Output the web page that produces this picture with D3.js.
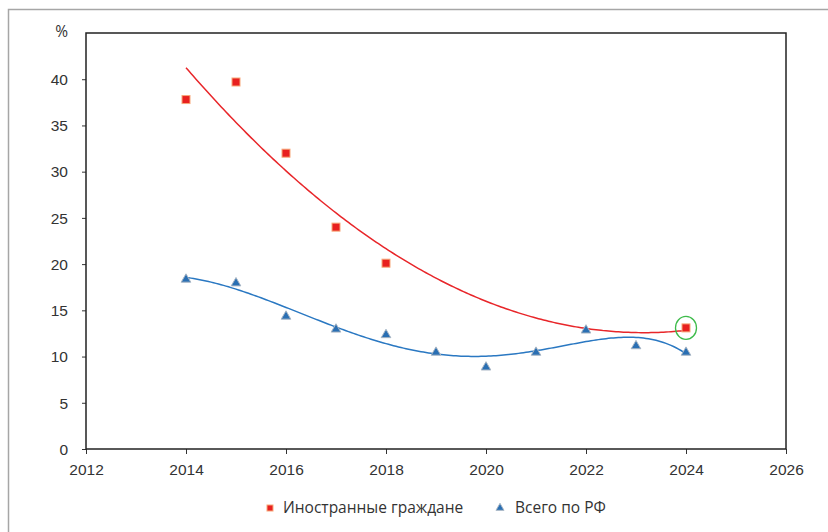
<!DOCTYPE html>
<html><head><meta charset="utf-8">
<script src="https://cdn.jsdelivr.net/npm/d3@7"></script>
<style>body{margin:0;background:#fff}svg{display:block;font-family:"Open Sans",sans-serif}</style>
</head><body><svg id="c" width="828" height="532"></svg>
<script>
const foreignYears = [2014, 2015, 2016, 2017, 2018, 2024];
const foreignValues = [37.8, 39.7, 32.0, 24.0, 20.1, 13.1];
const totalYears = [2014, 2015, 2016, 2017, 2018, 2019, 2020, 2021, 2022, 2023, 2024];
const totalValues = [18.4, 18.0, 14.4, 13.0, 12.4, 10.5, 8.9, 10.5, 12.9, 11.2, 10.5];
const xTicks = [2012, 2014, 2016, 2018, 2020, 2022, 2024, 2026];
const yTicks = [0, 5, 10, 15, 20, 25, 30, 35, 40];
const seriesNames = ["Иностранные граждане", "Всего по РФ"];

function polyfit(xs, ys, deg) {
  const n = deg + 1, A = [], b = [];
  for (let i = 0; i < n; i++) { A.push(new Array(n).fill(0)); b.push(0); }
  xs.forEach((x, k) => {
    for (let i = 0; i < n; i++) {
      b[i] += ys[k] * Math.pow(x, i);
      for (let j = 0; j < n; j++) A[i][j] += Math.pow(x, i + j);
    }
  });
  for (let i = 0; i < n; i++) {
    let p = i; for (let r = i + 1; r < n; r++) if (Math.abs(A[r][i]) > Math.abs(A[p][i])) p = r;
    [A[i], A[p]] = [A[p], A[i]]; [b[i], b[p]] = [b[p], b[i]];
    for (let r = i + 1; r < n; r++) { const f = A[r][i] / A[i][i]; for (let c = i; c < n; c++) A[r][c] -= f * A[i][c]; b[r] -= f * b[i]; }
  }
  const co = new Array(n).fill(0);
  for (let i = n - 1; i >= 0; i--) { let s = b[i]; for (let c = i + 1; c < n; c++) s -= A[i][c] * co[c]; co[i] = s / A[i][i]; }
  return x => co.reduce((s, c, i) => s + c * Math.pow(x, i), 0);
}

const svg = d3.select("#c");
const L = 86, T = 33, R = 786, B = 449;
const FS = 15.5;
const x = d3.scaleLinear().domain([2012, 2026]).range([L, R]);
const y = d3.scaleLinear().domain([0, 45]).range([B, T]);

svg.append("rect").attr("x", 8.5).attr("y", 9.5).attr("width", 830).attr("height", 530)
  .attr("fill", "none").attr("stroke", "#a6a6a6").attr("stroke-width", 1.5);

const gx = svg.append("g").attr("transform", `translate(0,${B})`)
  .call(d3.axisBottom(x).tickValues(xTicks).tickFormat(d3.format("d")).tickSize(5).tickSizeOuter(0));
gx.selectAll("text").attr("font-size", FS).attr("fill", "#333").attr("y", 26).attr("dy", null);
const gy = svg.append("g").attr("transform", `translate(${L},0)`)
  .call(d3.axisLeft(y).tickValues(yTicks).tickSize(4).tickSizeOuter(0));
gy.selectAll("text").attr("font-size", FS).attr("fill", "#333").attr("x", -18).attr("dy", "0.34em");
svg.selectAll(".domain").remove();
svg.selectAll(".tick line").attr("stroke", "#333");
svg.append("text").attr("x", L - 18).attr("y", T + 4).attr("text-anchor", "end")
  .attr("font-size", FS).attr("fill", "#333").text("%");

svg.append("rect").attr("x", L).attr("y", T).attr("width", R - L).attr("height", B - T)
  .attr("fill", "none").attr("stroke", "#222").attr("stroke-width", 1.5);

const fRed = polyfit(foreignYears.map(v => v - 2019), foreignValues, 2);
const fBlue = polyfit(totalYears.map(v => v - 2019), totalValues, 6);
const grid = d3.range(2014, 2024.001, 0.05);
const line = f => d3.line().x(d => x(d)).y(d => y(f(d - 2019)))(grid);
svg.append("path").attr("d", line(fRed)).attr("fill", "none").attr("stroke", "#e8262a").attr("stroke-width", 1.5);
svg.append("path").attr("d", line(fBlue)).attr("fill", "none").attr("stroke", "#2a78c2").attr("stroke-width", 1.5);

const tri = d3.symbol().type(d3.symbolTriangle).size(40);
svg.append("g").selectAll("path").data(totalYears).join("path")
  .attr("d", tri).attr("transform", (d, i) => `translate(${x(d)},${y(totalValues[i]) + 0.5})`)
  .attr("fill", "#2a6fb3").attr("stroke", "#a9b6c4").attr("stroke-width", 1);
svg.append("g").selectAll("rect").data(foreignYears).join("rect")
  .attr("x", d => x(d) - 4).attr("y", (d, i) => y(foreignValues[i]) - 4)
  .attr("width", 8).attr("height", 8)
  .attr("fill", "#e8201f").attr("stroke", "#f7a77a").attr("stroke-width", 1);

svg.append("ellipse").attr("cx", x(2024)).attr("cy", y(foreignValues[5])).attr("rx", 10.5).attr("ry", 11.5)
  .attr("fill", "none").attr("stroke", "#3dbb4a").attr("stroke-width", 1.3);

const lg = svg.append("g").attr("font-size", FS).attr("fill", "#333");
lg.append("rect").attr("x", 267).attr("y", 505).attr("width", 6).attr("height", 6)
  .attr("fill", "#e8201f").attr("stroke", "#f7a77a").attr("stroke-width", 1);
lg.append("text").attr("x", 283).attr("y", 513).text(seriesNames[0]);
lg.append("path").attr("d", d3.symbol().type(d3.symbolTriangle).size(28))
  .attr("transform", "translate(500,508)").attr("fill", "#2a6fb3").attr("stroke", "#a9b6c4");
lg.append("text").attr("x", 515).attr("y", 513).text(seriesNames[1]);
</script></body></html>
